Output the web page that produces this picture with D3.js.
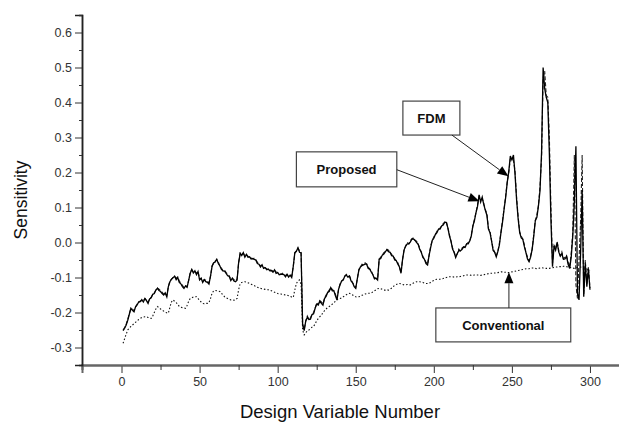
<!DOCTYPE html>
<html><head><meta charset="utf-8">
<script src="https://cdn.jsdelivr.net/npm/d3@7"></script>
<style>body{margin:0;background:#fff}svg{display:block}</style>
</head><body>
<svg id="c" width="619" height="424"></svg>
<script>
const designVars = d3.range(1, 301);
const proposed = [
-0.252,-0.245,-0.236,-0.222,-0.205,-0.188,-0.194,-0.198,-0.184,-0.178,
-0.170,-0.169,-0.163,-0.170,-0.160,-0.166,-0.174,-0.161,-0.158,-0.148,
-0.146,-0.136,-0.131,-0.137,-0.140,-0.146,-0.150,-0.144,-0.155,-0.126,
-0.112,-0.105,-0.101,-0.096,-0.106,-0.100,-0.114,-0.118,-0.126,-0.131,
-0.124,-0.128,-0.108,-0.088,-0.077,-0.087,-0.081,-0.092,-0.083,-0.107,
-0.102,-0.114,-0.106,-0.112,-0.114,-0.119,-0.096,-0.068,-0.058,-0.056,
-0.048,-0.060,-0.067,-0.077,-0.081,-0.082,-0.088,-0.095,-0.097,-0.109,
-0.102,-0.110,-0.112,-0.108,-0.058,-0.031,-0.037,-0.029,-0.042,-0.034,
-0.042,-0.041,-0.047,-0.046,-0.048,-0.050,-0.060,-0.062,-0.070,-0.064,
-0.074,-0.072,-0.078,-0.076,-0.081,-0.080,-0.085,-0.078,-0.088,-0.086,
-0.092,-0.091,-0.091,-0.092,-0.098,-0.091,-0.099,-0.093,-0.100,-0.068,
-0.029,-0.025,-0.015,-0.028,-0.030,-0.236,-0.252,-0.224,-0.214,-0.220,
-0.219,-0.206,-0.204,-0.188,-0.176,-0.178,-0.167,-0.174,-0.179,-0.160,
-0.154,-0.143,-0.140,-0.129,-0.138,-0.138,-0.152,-0.164,-0.134,-0.120,
-0.110,-0.107,-0.096,-0.093,-0.099,-0.096,-0.110,-0.115,-0.126,-0.131,
-0.104,-0.079,-0.070,-0.066,-0.064,-0.062,-0.062,-0.074,-0.076,-0.085,
-0.092,-0.104,-0.102,-0.107,-0.048,-0.046,-0.036,-0.033,-0.026,-0.021,
-0.026,-0.028,-0.038,-0.039,-0.050,-0.052,-0.062,-0.070,-0.088,-0.048,
-0.021,-0.010,-0.004,-0.004,0.002,0.010,0.010,0.006,0.000,-0.005,
-0.020,-0.028,-0.043,-0.048,-0.060,-0.064,-0.036,-0.014,0.006,0.012,
0.023,0.028,0.038,0.038,0.047,0.050,0.058,0.057,0.042,0.019,
0.004,-0.019,-0.028,-0.043,-0.032,-0.023,-0.024,-0.020,-0.013,-0.014,
-0.004,-0.004,0.004,0.018,0.047,0.062,0.085,0.103,0.136,0.116,
0.130,0.108,0.092,0.078,0.038,0.028,0.004,-0.023,-0.028,-0.041,
-0.026,-0.007,0.028,0.058,0.095,0.128,0.171,0.203,0.247,0.236,
0.250,0.196,0.123,0.068,0.028,0.013,0.009,-0.012,-0.029,-0.047,
-0.055,-0.042,-0.019,0.018,0.062,0.072,0.104,0.148,0.257,0.500,
0.440,0.415,0.400,0.253,0.066,-0.069,-0.010,-0.022,0.000,-0.027,
-0.039,-0.032,-0.048,-0.047,-0.039,-0.062,-0.074,-0.042,0.019,0.118,
0.275,-0.145,-0.164,-0.031,0.150,-0.155,-0.060,-0.126,-0.075,-0.135
];
const fdm = [
-0.250,-0.243,-0.233,-0.220,-0.203,-0.190,-0.190,-0.195,-0.184,-0.176,
-0.170,-0.167,-0.166,-0.166,-0.160,-0.165,-0.171,-0.161,-0.156,-0.149,
-0.144,-0.136,-0.130,-0.133,-0.138,-0.142,-0.148,-0.145,-0.152,-0.126,
-0.110,-0.105,-0.100,-0.097,-0.102,-0.099,-0.110,-0.116,-0.122,-0.129,
-0.124,-0.126,-0.108,-0.087,-0.078,-0.083,-0.082,-0.088,-0.082,-0.105,
-0.102,-0.110,-0.106,-0.108,-0.112,-0.115,-0.096,-0.067,-0.059,-0.053,
-0.049,-0.056,-0.067,-0.073,-0.081,-0.079,-0.086,-0.091,-0.095,-0.105,
-0.102,-0.106,-0.110,-0.104,-0.058,-0.030,-0.034,-0.030,-0.038,-0.035,
-0.039,-0.041,-0.044,-0.046,-0.045,-0.049,-0.056,-0.062,-0.066,-0.065,
-0.070,-0.072,-0.075,-0.076,-0.078,-0.080,-0.081,-0.079,-0.084,-0.086,
-0.088,-0.091,-0.088,-0.092,-0.094,-0.092,-0.095,-0.094,-0.096,-0.068,
-0.030,-0.024,-0.016,-0.024,-0.028,-0.232,-0.248,-0.224,-0.210,-0.220,
-0.215,-0.206,-0.200,-0.188,-0.172,-0.178,-0.167,-0.170,-0.176,-0.160,
-0.150,-0.143,-0.136,-0.129,-0.134,-0.138,-0.148,-0.161,-0.134,-0.118,
-0.110,-0.105,-0.096,-0.091,-0.095,-0.096,-0.106,-0.115,-0.122,-0.129,
-0.104,-0.077,-0.070,-0.062,-0.064,-0.058,-0.062,-0.070,-0.076,-0.081,
-0.092,-0.100,-0.102,-0.105,-0.048,-0.042,-0.036,-0.029,-0.026,-0.019,
-0.022,-0.028,-0.034,-0.039,-0.046,-0.052,-0.058,-0.070,-0.086,-0.048,
-0.019,-0.010,0.000,-0.004,0.006,0.010,0.014,0.006,0.004,-0.005,
-0.016,-0.028,-0.039,-0.048,-0.056,-0.062,-0.036,-0.010,0.006,0.016,
0.023,0.032,0.038,0.042,0.047,0.054,0.058,0.061,0.042,0.023,
0.004,-0.015,-0.028,-0.039,-0.032,-0.019,-0.024,-0.016,-0.013,-0.010,
-0.004,0.000,0.004,0.022,0.047,0.066,0.085,0.108,0.130,0.122,
0.125,0.112,0.094,0.082,0.040,0.032,0.005,-0.018,-0.028,-0.038,
-0.025,-0.002,0.029,0.063,0.096,0.133,0.172,0.200,0.238,0.242,
0.235,0.205,0.130,0.075,0.030,0.018,0.010,-0.007,-0.028,-0.042,
-0.052,-0.037,-0.018,0.023,0.063,0.078,0.106,0.160,0.240,0.470,
0.490,0.420,0.415,0.300,0.100,-0.060,-0.008,-0.016,0.002,-0.022,
-0.038,-0.027,-0.047,-0.042,-0.038,-0.056,-0.070,-0.030,0.030,0.250,
-0.120,-0.160,-0.050,0.060,0.250,-0.150,-0.050,-0.120,-0.070,-0.130
];
const conventional = [
-0.288,-0.275,-0.262,-0.250,-0.245,-0.240,-0.236,-0.232,-0.228,-0.224,
-0.220,-0.217,-0.214,-0.213,-0.212,-0.212,-0.214,-0.216,-0.217,-0.210,
-0.200,-0.190,-0.183,-0.186,-0.190,-0.193,-0.196,-0.199,-0.201,-0.202,
-0.185,-0.170,-0.164,-0.168,-0.172,-0.176,-0.183,-0.185,-0.186,-0.187,
-0.188,-0.180,-0.168,-0.160,-0.158,-0.156,-0.155,-0.155,-0.160,-0.166,
-0.170,-0.174,-0.175,-0.174,-0.174,-0.172,-0.160,-0.145,-0.138,-0.137,
-0.138,-0.139,-0.140,-0.145,-0.150,-0.155,-0.158,-0.160,-0.162,-0.164,
-0.164,-0.165,-0.164,-0.160,-0.135,-0.117,-0.114,-0.113,-0.112,-0.113,
-0.115,-0.117,-0.119,-0.121,-0.123,-0.126,-0.128,-0.130,-0.131,-0.132,
-0.133,-0.134,-0.135,-0.135,-0.136,-0.138,-0.140,-0.142,-0.144,-0.146,
-0.147,-0.147,-0.148,-0.149,-0.150,-0.150,-0.152,-0.154,-0.156,-0.157,
-0.135,-0.117,-0.110,-0.107,-0.120,-0.250,-0.264,-0.258,-0.252,-0.250,
-0.246,-0.242,-0.240,-0.232,-0.224,-0.217,-0.212,-0.208,-0.200,-0.195,
-0.190,-0.186,-0.183,-0.180,-0.176,-0.172,-0.168,-0.164,-0.161,-0.160,
-0.158,-0.155,-0.152,-0.149,-0.147,-0.145,-0.147,-0.150,-0.153,-0.155,
-0.156,-0.155,-0.154,-0.151,-0.149,-0.147,-0.146,-0.145,-0.145,-0.144,
-0.141,-0.138,-0.135,-0.132,-0.131,-0.132,-0.134,-0.136,-0.136,-0.135,
-0.136,-0.134,-0.130,-0.126,-0.122,-0.120,-0.118,-0.117,-0.118,-0.120,
-0.121,-0.121,-0.120,-0.121,-0.121,-0.118,-0.116,-0.114,-0.112,-0.112,
-0.112,-0.113,-0.114,-0.116,-0.117,-0.117,-0.116,-0.114,-0.111,-0.108,
-0.106,-0.105,-0.105,-0.105,-0.104,-0.103,-0.101,-0.100,-0.099,-0.098,
-0.098,-0.098,-0.099,-0.099,-0.098,-0.098,-0.097,-0.096,-0.095,-0.094,
-0.093,-0.093,-0.093,-0.094,-0.094,-0.093,-0.093,-0.093,-0.093,-0.094,
-0.093,-0.092,-0.091,-0.090,-0.089,-0.088,-0.088,-0.087,-0.087,-0.087,
-0.086,-0.085,-0.084,-0.084,-0.085,-0.085,-0.086,-0.086,-0.085,-0.084,
-0.083,-0.082,-0.081,-0.080,-0.079,-0.078,-0.077,-0.076,-0.075,-0.075,
-0.075,-0.074,-0.073,-0.073,-0.074,-0.075,-0.074,-0.073,-0.072,-0.073,
-0.073,-0.074,-0.074,-0.074,-0.073,-0.072,-0.071,-0.070,-0.070,-0.069,
-0.069,-0.069,-0.068,-0.068,-0.069,-0.070,-0.071,-0.072,-0.073,-0.074,
-0.072,-0.071,-0.070,-0.070,-0.071,-0.072,-0.074,-0.076,-0.078,-0.080
];
const xTicks = [0, 50, 100, 150, 200, 250, 300];
const xMinor = [25, 75, 125, 175, 225, 275, 325];
const yTicks = [-0.3, -0.2, -0.1, 0.0, 0.1, 0.2, 0.3, 0.4, 0.5, 0.6];
const yMinor = [-0.25, -0.15, -0.05, 0.05, 0.15, 0.25, 0.35, 0.45, 0.55, 0.65];
const labels = ["FDM", "Proposed", "Conventional"];
const xTitle = "Design Variable Number";
const yTitle = "Sensitivity";

const svg = d3.select("#c");
const x = d3.scaleLinear().domain([-25.3, 325]).range([82, 629]);
const y = d3.scaleLinear().domain([-0.35, 0.65]).range([365, 15]);

const font = "Arial, 'Liberation Sans', sans-serif";

// axes
const gx = svg.append("g").attr("transform", "translate(0,365)");
gx.call(d3.axisBottom(x).tickValues(xTicks).tickSize(8).tickPadding(4).tickFormat(d3.format("d")));
gx.append("g").call(d3.axisBottom(x).tickValues(xMinor).tickSize(5).tickFormat(""));
gx.selectAll(".domain").attr("stroke", "#666").attr("stroke-width", 2);
gx.selectAll(".tick line").attr("stroke", "#333");
gx.selectAll("text").attr("font-family", font).attr("font-size", 12.5).attr("fill", "#333");

const gy = svg.append("g").attr("transform", "translate(82,0)");
gy.call(d3.axisLeft(y).tickValues(yTicks).tickSize(7).tickPadding(3).tickFormat(d3.format(".1f")));
gy.append("g").call(d3.axisLeft(y).tickValues(yMinor).tickSize(3).tickFormat(""));
gy.selectAll(".domain").attr("stroke", "#222").attr("stroke-width", 1.5);
gy.selectAll(".tick line").attr("stroke", "#333");
gy.selectAll("text").attr("font-family", font).attr("font-size", 12.5).attr("fill", "#333")
  .text(function(){ return this.textContent.replace("−", "-"); });

svg.append("text").attr("x", 340).attr("y", 418).attr("text-anchor", "middle")
  .attr("font-family", font).attr("font-size", 18.5).attr("fill", "#111").text(xTitle);
svg.append("text").attr("transform", "translate(27,200) rotate(-90)").attr("text-anchor", "middle")
  .attr("font-family", font).attr("font-size", 17.5).attr("fill", "#111").text(yTitle);

// lines
const line = arr => d3.line().x((d, i) => x(designVars[i])).y(d => y(d))(arr);
svg.append("path").attr("d", line(conventional)).attr("fill", "none")
  .attr("stroke", "#111").attr("stroke-width", 1.1).attr("stroke-dasharray", "1.5,2");
svg.append("path").attr("d", line(fdm)).attr("fill", "none")
  .attr("stroke", "#222").attr("stroke-width", 1.1).attr("stroke-dasharray", "4,2");
svg.append("path").attr("d", line(proposed)).attr("fill", "none")
  .attr("stroke", "#000").attr("stroke-width", 1.3);

// annotations (data coordinates)
const boxes = [
  {t: labels[0], x0: 180.2, x1: 216.7, y0: 0.404, y1: 0.307},
  {t: labels[1], x0: 112.0, x1: 176.3, y0: 0.259, y1: 0.159},
  {t: labels[2], x0: 201.3, x1: 287.7, y0: -0.187, y1: -0.284}
];
const arrows = [
  {x0: 211.6, y0: 0.307, x1: 247.8, y1: 0.189},
  {x0: 176.3, y0: 0.208, x1: 229.2, y1: 0.118},
  {x0: 248.1, y0: -0.187, x1: 248.1, y1: -0.085}
];
boxes.forEach(b => {
  svg.append("rect").attr("x", x(b.x0)).attr("y", y(b.y0))
    .attr("width", x(b.x1) - x(b.x0)).attr("height", y(b.y1) - y(b.y0))
    .attr("fill", "#fff").attr("stroke", "#444").attr("stroke-width", 1.2);
  svg.append("text").attr("x", (x(b.x0) + x(b.x1)) / 2).attr("y", (y(b.y0) + y(b.y1)) / 2 + 5)
    .attr("text-anchor", "middle").attr("font-family", font).attr("font-weight", "bold")
    .attr("font-size", 13).attr("fill", "#111").text(b.t);
});
arrows.forEach(a => {
  const X0 = x(a.x0), Y0 = y(a.y0), X1 = x(a.x1), Y1 = y(a.y1);
  const ang = Math.atan2(Y1 - Y0, X1 - X0);
  const L = 11, W = 4.5;
  const bx = X1 - L * Math.cos(ang), by = Y1 - L * Math.sin(ang);
  svg.append("line").attr("x1", X0).attr("y1", Y0).attr("x2", bx).attr("y2", by)
    .attr("stroke", "#222").attr("stroke-width", 1);
  const px = -Math.sin(ang) * W, py = Math.cos(ang) * W;
  svg.append("path").attr("d", `M${X1},${Y1}L${bx + px},${by + py}L${bx - px},${by - py}Z`).attr("fill", "#000");
});
</script>
</body></html>
